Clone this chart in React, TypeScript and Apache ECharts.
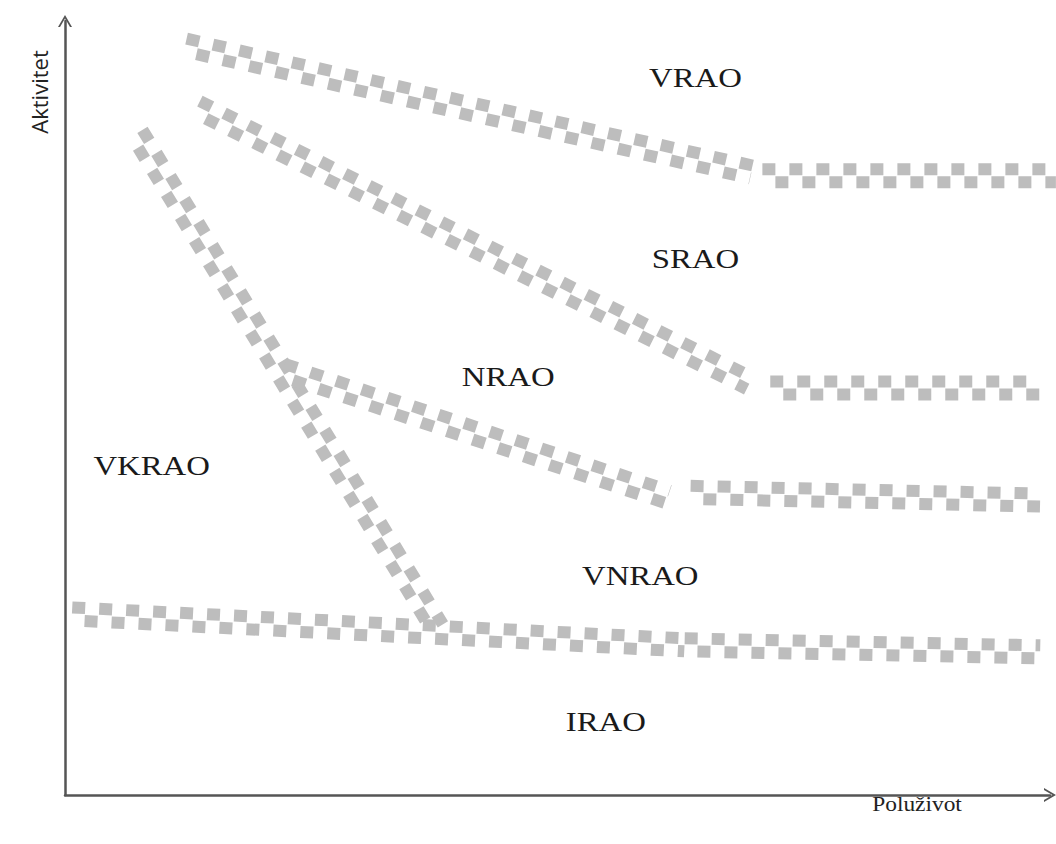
import React, { useEffect, useRef } from "react";
import * as echarts from "echarts";

// Region labels (x, y in chart units 0..100)
const regionNames = ["VRAO", "SRAO", "NRAO", "VKRAO", "VNRAO", "IRAO"];
const regionX = [64.0, 64.0, 45.0, 8.8, 58.4, 54.9];
const regionY = [92.6, 69.3, 54.0, 42.5, 28.3, 9.4];

// Boundary segments: [x1, y1, x2, y2]
const vraoSraoBoundary = [
  [12.2, 96.9, 69.7, 80.5],
  [70.8, 80.0, 100.6, 80.0],
];
const sraoNraoBoundary = [
  [13.4, 88.9, 69.5, 53.2],
  [71.6, 52.6, 99.0, 52.6],
];
const vkraoBoundary = [[7.3, 85.5, 37.8, 21.6]];
const nraoVnraoBoundary = [
  [22.1, 54.9, 61.2, 38.5],
  [63.5, 39.1, 99.0, 38.1],
];
const iraoBoundary = [
  [0.7, 23.4, 62.9, 19.4],
  [62.9, 19.4, 99.0, 18.5],
];

const xAxisTitle = "Poluživot";
const yAxisTitle = "Aktivitet";

const CHECK_COLOR = "#bdbdbd";
const SQ = 12;
const OFF = 6.5;
const DASH = 13;
const GAP = 14;

const checkerRender = (params: any, api: any) => {
  const p1 = api.coord([api.value(0), api.value(1)]);
  const p2 = api.coord([api.value(2), api.value(3)]);
  const dx = p2[0] - p1[0];
  const dy = p2[1] - p1[1];
  const len = Math.hypot(dx, dy) || 1;
  const nx = (-dy / len) * OFF;
  const ny = (dx / len) * OFF;
  const mk = (s: number, phase: number) => ({
    type: "line",
    silent: true,
    shape: {
      x1: p1[0] + s * nx,
      y1: p1[1] + s * ny,
      x2: p2[0] + s * nx,
      y2: p2[1] + s * ny,
    },
    style: {
      stroke: CHECK_COLOR,
      lineWidth: SQ,
      lineDash: [DASH, GAP],
      lineDashOffset: phase,
      lineCap: "butt",
      fill: null,
    },
  });
  return { type: "group", children: [mk(-1, 0), mk(1, (DASH + GAP) / 2)] };
};

const checkerSeries = (data: number[][]) => ({
  type: "custom",
  renderItem: checkerRender,
  data,
  encode: { x: [0, 2], y: [1, 3] },
  clip: false,
  silent: true,
  z: 2,
});

const chevron = "path://M0,12 L7,0 L14,12 L12,12 L7,3.6 L2,12 Z";

export default function App() {
  const ref = useRef<HTMLDivElement>(null);
  useEffect(() => {
    if (!ref.current) return;
    const chart = echarts.init(ref.current, null, { renderer: "svg" });
    const axisCommon = {
      type: "value",
      min: 0,
      max: 100,
      axisLine: {
        show: true,
        lineStyle: { color: "#555", width: 2.5 },
        symbol: ["none", chevron],
        symbolSize: [14, 12],
      },
      axisTick: { show: false },
      axisLabel: { show: false },
      splitLine: { show: false },
    };
    chart.setOption({
      animation: false,
      backgroundColor: "#ffffff",
      grid: { left: 65, right: 6, top: 21, bottom: 49 },
      xAxis: { ...axisCommon },
      yAxis: { ...axisCommon },
      series: [
        checkerSeries(vraoSraoBoundary),
        checkerSeries(sraoNraoBoundary),
        checkerSeries(vkraoBoundary),
        checkerSeries(nraoVnraoBoundary),
        checkerSeries(iraoBoundary),
        {
          type: "custom",
          silent: true,
          clip: false,
          z: 5,
          data: regionX.map((x, i) => [x, regionY[i]]),
          encode: { x: 0, y: 1 },
          renderItem: (params: any, api: any) => {
            const p = api.coord([api.value(0), api.value(1)]);
            return {
              type: "text",
              x: p[0],
              y: p[1],
              scaleX: 1.17,
              style: {
                text: regionNames[params.dataIndex],
                fill: "#1a1a1a",
                fontSize: 28,
                fontFamily: "Liberation Serif",
                align: "center",
                verticalAlign: "middle",
              },
            };
          },
        },
      ],
      graphic: [
        {
          type: "text",
          x: 39,
          y: 92,
          rotation: Math.PI / 2,
          style: {
            text: yAxisTitle,
            fill: "#222",
            fontSize: 22,
            fontFamily: "Open Sans",
            align: "center",
            verticalAlign: "middle",
          },
        },
        {
          type: "text",
          x: 917,
          y: 805,
          scaleX: 1.17,
          style: {
            text: xAxisTitle,
            fill: "#222",
            fontSize: 20,
            fontFamily: "Liberation Serif",
            align: "center",
            verticalAlign: "middle",
          },
        },
      ],
    });
    return () => chart.dispose();
  }, []);
  return (
    <div
      ref={ref}
      style={{ position: "fixed", left: 0, top: 0, width: 1056, height: 844, background: "#fff" }}
    />
  );
}
